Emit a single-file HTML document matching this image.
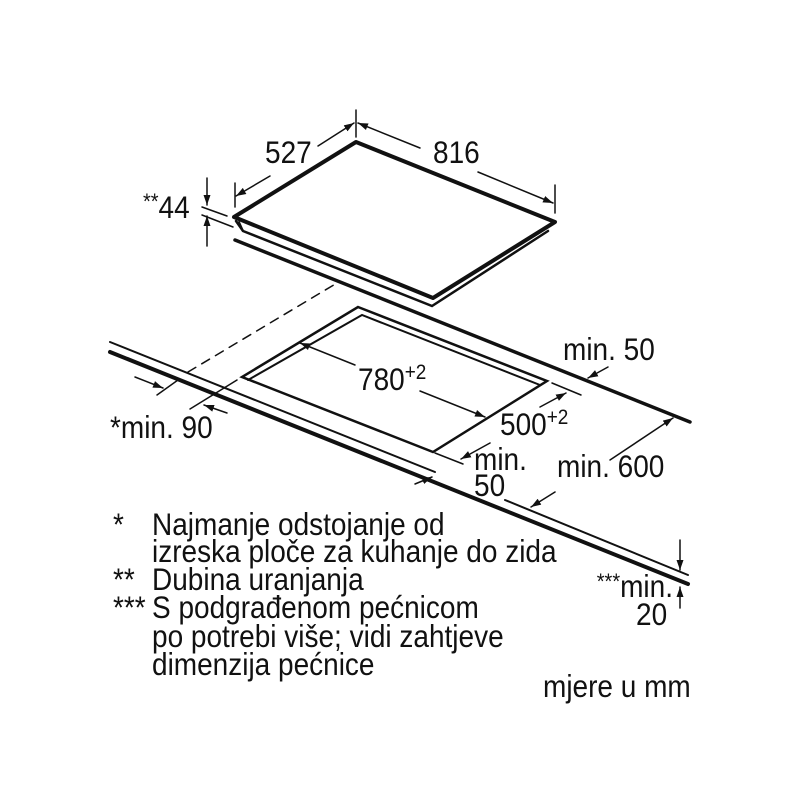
<!DOCTYPE html>
<html><head><meta charset="utf-8"><style>
html,body{margin:0;padding:0;background:#fff;}
svg{display:block}
text{font-family:"Liberation Sans",Arial,sans-serif;fill:#111;font-size:28px}
</style></head><body>
<svg width="800" height="800" viewBox="0 0 800 800" xmlns="http://www.w3.org/2000/svg">
<defs>
<marker id="a" viewBox="0 0 10 10" refX="10" refY="5" markerWidth="10" markerHeight="10" markerUnits="userSpaceOnUse" orient="auto"><path d="M0,1.5 L10,5 L0,8.5 z" fill="#111"/></marker>
</defs>
<g stroke="#111" fill="none" stroke-linecap="round">
<path d="M356,142 L555,222 L433,298 L234,217 Z" stroke-width="4" stroke-linejoin="round"/>
<path d="M236,221 L243,231 L432,306 L548,231" stroke-width="2.5"/>
<line x1="243" y1="231" x2="239" y2="222" stroke-width="2"/>
<line x1="235" y1="240" x2="690" y2="422" stroke-width="3.5"/>
<line x1="110" y1="342" x2="435" y2="472" stroke-width="2"/>
<line x1="505" y1="500" x2="688" y2="575" stroke-width="2"/>
<line x1="110" y1="352" x2="688" y2="584" stroke-width="4"/>
<line x1="188" y1="372" x2="337" y2="283" stroke-width="1.5" stroke-dasharray="9,7"/>
<path d="M358,307 L547,381 L433,452 L242,377 Z" stroke-width="2.5"/>
<path d="M248,380 L362,315 L540,385" stroke-width="2"/>
<line x1="356" y1="110" x2="356" y2="137" stroke-width="1.5"/>
<line x1="235" y1="183" x2="235" y2="207" stroke-width="1.5"/>
<line x1="555" y1="185" x2="555" y2="213" stroke-width="1.5"/>
<line x1="270" y1="176" x2="236" y2="196" stroke-width="1.5" marker-end="url(#a)"/>
<line x1="318" y1="146" x2="354" y2="123" stroke-width="1.5" marker-end="url(#a)"/>
<line x1="420" y1="148" x2="358" y2="123" stroke-width="1.5" marker-end="url(#a)"/>
<line x1="478" y1="172" x2="553" y2="203" stroke-width="1.5" marker-end="url(#a)"/>
<line x1="207" y1="178" x2="207" y2="205" stroke-width="1.5" marker-end="url(#a)"/>
<line x1="207" y1="246" x2="207" y2="216" stroke-width="1.5" marker-end="url(#a)"/>
<line x1="202" y1="207" x2="227" y2="216" stroke-width="1.5"/>
<line x1="202" y1="215" x2="233" y2="227" stroke-width="1.5"/>
<line x1="355" y1="365" x2="300" y2="343" stroke-width="1.5" marker-end="url(#a)"/>
<line x1="420" y1="391" x2="485" y2="417" stroke-width="1.5" marker-end="url(#a)"/>
<line x1="552" y1="383" x2="581" y2="395" stroke-width="1.5"/>
<line x1="435" y1="453" x2="463" y2="464" stroke-width="1.5"/>
<line x1="540" y1="407" x2="566" y2="393" stroke-width="1.5" marker-end="url(#a)"/>
<line x1="490" y1="443" x2="461" y2="459" stroke-width="1.5" marker-end="url(#a)"/>
<line x1="415" y1="484" x2="432" y2="477" stroke-width="1.5" marker-end="url(#a)"/>
<line x1="608" y1="367" x2="588" y2="378" stroke-width="1.5" marker-end="url(#a)"/>
<line x1="610" y1="460" x2="673" y2="418" stroke-width="1.5" marker-end="url(#a)"/>
<line x1="555" y1="492" x2="531" y2="507" stroke-width="1.5" marker-end="url(#a)"/>
<line x1="135" y1="377" x2="163" y2="388" stroke-width="1.5" marker-end="url(#a)"/>
<line x1="227" y1="413" x2="204" y2="405" stroke-width="1.5" marker-end="url(#a)"/>
<line x1="157" y1="395" x2="178" y2="380" stroke-width="1.5"/>
<line x1="190" y1="409" x2="237" y2="380" stroke-width="1.5"/>
<line x1="680" y1="540" x2="680" y2="570" stroke-width="1.5" marker-end="url(#a)"/>
<line x1="680" y1="608" x2="680" y2="587" stroke-width="1.5" marker-end="url(#a)"/>
</g>
<g transform="translate(265,163) scale(1,1.12)"><text>527</text></g>
<g transform="translate(433,163) scale(1,1.12)"><text>816</text></g>
<g transform="translate(143,218) scale(1,1.12)"><text><tspan font-size="20" dy="-8">**</tspan><tspan dy="8">44</tspan></text></g>
<g transform="translate(358,390) scale(1,1.12)"><text>780<tspan font-size="19" dy="-10">+2</tspan></text></g>
<g transform="translate(500,435) scale(1,1.12)"><text>500<tspan font-size="19" dy="-10">+2</tspan></text></g>
<g transform="translate(563,360) scale(1,1.12)"><text>min. 50</text></g>
<g transform="translate(474,470) scale(1,1.12)"><text>min.</text></g>
<g transform="translate(474,496) scale(1,1.12)"><text>50</text></g>
<g transform="translate(557,477) scale(1,1.12)"><text>min. 600</text></g>
<g transform="translate(110,438) scale(1,1.12)"><text>*min. 90</text></g>
<g transform="translate(673,597) scale(1,1.12)"><text text-anchor="end"><tspan font-size="20" dy="-7">***</tspan><tspan dy="7">min.</tspan></text></g>
<g transform="translate(636,625) scale(1,1.12)"><text>20</text></g>
<g transform="translate(113,535) scale(1,1.12)"><text font-size="24">*</text></g>
<g transform="translate(152,535) scale(1,1.12)"><text>Najmanje odstojanje od</text></g>
<g transform="translate(152,562) scale(1,1.12)"><text>izreska ploče za kuhanje do zida</text></g>
<g transform="translate(113,590) scale(1,1.12)"><text font-size="24">**</text></g>
<g transform="translate(152,590) scale(1,1.12)"><text>Dubina uranjanja</text></g>
<g transform="translate(113,618) scale(1,1.12)"><text font-size="24">***</text></g>
<g transform="translate(152,618) scale(1,1.12)"><text>S podgrađenom pećnicom</text></g>
<g transform="translate(152,647) scale(1,1.12)"><text>po potrebi više; vidi zahtjeve</text></g>
<g transform="translate(152,675) scale(1,1.12)"><text>dimenzija pećnice</text></g>
<g transform="translate(543,697) scale(1,1.12)"><text>mjere u mm</text></g>
</svg>
</body></html>
